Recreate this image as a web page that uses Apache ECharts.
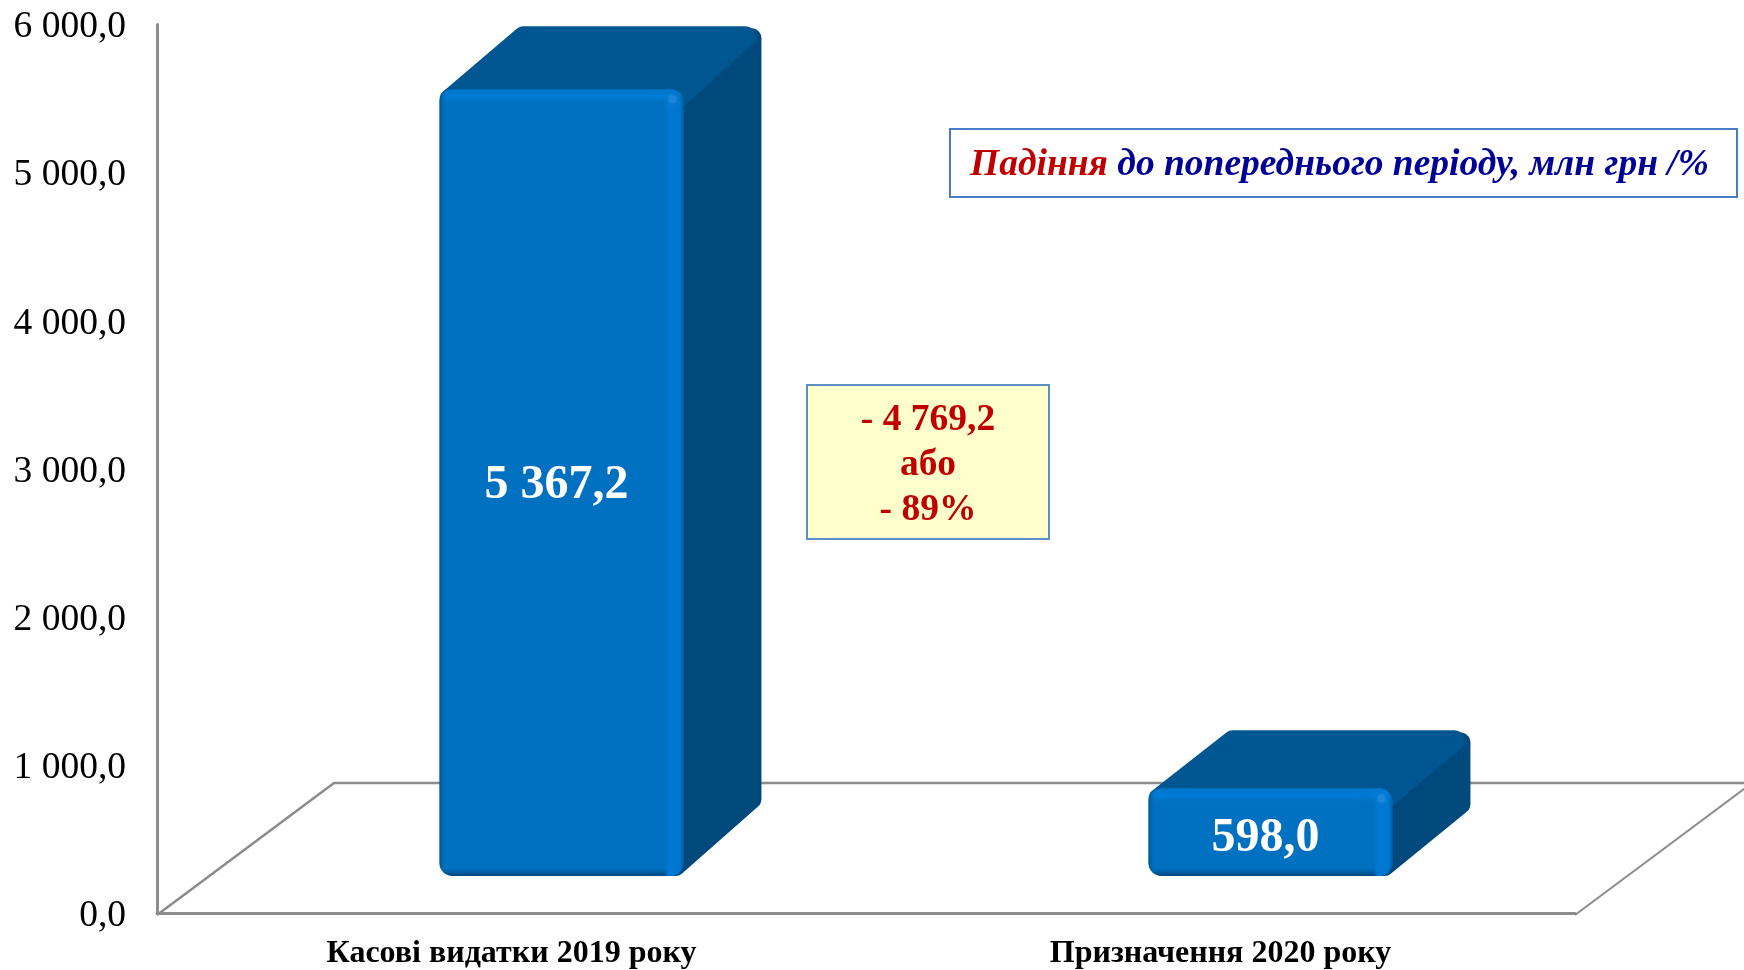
<!DOCTYPE html>
<html><head><meta charset="utf-8">
<style>html,body{margin:0;padding:0;background:#fff}#c{width:1744px;height:970px}</style>
<script src="https://cdn.jsdelivr.net/npm/echarts@6/dist/echarts.min.js"></script>
</head><body><div id="c"></div>
<script>
const categories = ['Касові видатки 2019 року', 'Призначення 2020 року'];
const values = [5367.2, 598.0];
const yMax = 6000, yStep = 1000;
const dropLines = ['- 4 769,2', 'або', '- 89%'];
const noteRed = 'Падіння', noteBlue = ' до попереднього періоду, млн грн /%';

const SERIF = '"Liberation Serif","Times New Roman",serif';
const GRAY = '#8c8c8c';
const fmt = v => { const [a, b] = v.toFixed(1).split('.'); return a.replace(/\B(?=(\d{3})+$)/g, ' ') + ',' + b; };

// 3D look: the front face sits part-way into the floor
const DX = 78, FRONT_X = 50, FRONT_Y = 37, K = 0.99;

function lg(horizontal, stops) {
  return new echarts.graphic.LinearGradient(0, 0, horizontal ? 1 : 0, horizontal ? 0 : 1, stops.map(s => ({offset: s[0], color: s[1]})));
}
function roundPoly(pts, fill, r) {
  return {type: 'polygon', shape: {points: pts}, style: {fill, stroke: fill, lineWidth: r * 2, lineJoin: 'round'}};
}
function renderBar(params, api) {
  const i = api.value(0), v = api.value(1);
  const p0 = api.coord([i, 0]), p1 = api.coord([i, v]);
  const w = api.size([1, 0])[0] * 0.344;
  const xl = p0[0] + FRONT_X - w / 2, xr = xl + w;
  const yb = p0[1] - FRONT_Y, yt = yb - (p0[1] - p1[1]) * K;
  const h = yb - yt, r = 10, R = 13;
  const short = h < 200, DY = short ? 58 : 63;
  const kids = [];
  // right face
  kids.push(roundPoly([[xr - 4, yt + 10], [xr + DX - r, yt - DY + r + 2], [xr + DX - r, yb - DY - r - 4], [xr - 8, yb - r]], '#00497d', r));
  // ridge between top and side faces
  kids.push({type: 'polyline', shape: {points: [[xr - 3, yt + 6], [xr + DX - 12, yt - DY + 12]]},
    style: {stroke: '#00558f', lineWidth: 12, lineCap: 'round', fill: null, shadowBlur: 6, shadowColor: '#00558f'}});
  // top face
  kids.push(roundPoly([[xl + 10, yt + 10], [xl + DX + 6, yt - DY + r], [xr + DX - r - 6, yt - DY + r], [xr - 6, yt + 10]], '#005690', r));
  // front face
  const ly = Math.min(14 / h, 0.3), lb = Math.min(8 / h, 0.2);
  kids.push({type: 'rect', shape: {x: xl, y: yt, width: w, height: h, r: R},
    style: {fill: lg(false, [[0, '#0075c8'], [ly * 0.5, '#007bd6'], [ly, '#0070c0'], [1 - lb, '#0070c0'], [1 - lb * 0.5, '#005fa6'], [1, '#004578']])}});
  kids.push({type: 'rect', shape: {x: xl, y: yt, width: w, height: h, r: R},
    style: {fill: lg(true, [[0, '#00568f'], [0.03, 'rgba(0,112,192,0)'], [0.92, 'rgba(0,120,208,0)'], [0.94, '#0078d2'], [0.985, '#0076cd'], [1, '#00619f']])}});
  kids.push({type: 'circle', shape: {cx: xr - 11, cy: yt + 10, r: 4}, style: {fill: '#1c86dc', shadowBlur: 4, shadowColor: '#1c86dc'}});
  // value label
  kids.push({type: 'text', style: {x: xl + w / 2 - 5, y: yt + h / 2 + (short ? 6 : 3), text: fmt(v), fill: '#fff',
    font: 'bold 48px ' + SERIF, align: 'center', verticalAlign: 'middle'}});
  return {type: 'group', children: kids};
}

const chart = echarts.init(document.getElementById('c'), null, {renderer: 'canvas'});
chart.setOption({
  animation: false,
  backgroundColor: '#fff',
  grid: {left: 157, right: 169, top: 24.5, bottom: 55, containLabel: false},
  xAxis: {type: 'category', data: categories,
    axisLine: {lineStyle: {color: GRAY, width: 3}}, axisTick: {show: false},
    axisLabel: {color: '#000', fontFamily: SERIF, fontWeight: 'bold', fontSize: 32, margin: 25, interval: 0}},
  yAxis: {type: 'value', min: 0, max: yMax, interval: yStep, splitLine: {show: false},
    axisLine: {show: true, lineStyle: {color: GRAY, width: 3}}, axisTick: {show: false},
    axisLabel: {color: '#000', fontFamily: SERIF, fontSize: 37.5, margin: 31, verticalAlign: 'top', padding: [-16, 0, 0, 0], formatter: v => fmt(v)}},
  graphic: {elements: [
    {type: 'polyline', z: 0, shape: {points: [[157, 915], [334, 783], [1752, 783]]}, style: {stroke: GRAY, lineWidth: 2.5, fill: null}},
    {type: 'polyline', z: 0, shape: {points: [[1575, 915], [1752, 783]]}, style: {stroke: GRAY, lineWidth: 2, fill: null}},
    {type: 'rect', z: 20, shape: {x: 807, y: 385, width: 242, height: 154},
      style: {fill: '#ffffcc', stroke: '#5f8fc9', lineWidth: 2}},
    {type: 'text', z: 21, x: 928, y: 465, style: {text: dropLines.join('\n'), fill: '#c00000',
      font: 'bold 37.5px ' + SERIF, lineHeight: 45, align: 'center', verticalAlign: 'middle'}},
    {type: 'rect', z: 20, shape: {x: 950, y: 129, width: 787, height: 68},
      style: {fill: '#fff', stroke: '#4a7cc4', lineWidth: 2}},
    {type: 'text', z: 21, x: 970, y: 165, style: {
      text: '{r|' + noteRed + '}{b|' + noteBlue + '}', align: 'left', verticalAlign: 'middle',
      rich: {r: {fill: '#c00000', font: 'italic bold 37.5px ' + SERIF},
             b: {fill: '#000096', font: 'italic bold 37.5px ' + SERIF}}}}
  ]},
  series: [{type: 'custom', z: 5, clip: false, renderItem: renderBar,
    encode: {x: 0, y: 1}, data: categories.map((c, i) => [i, values[i]])}]
});
</script></body></html>
